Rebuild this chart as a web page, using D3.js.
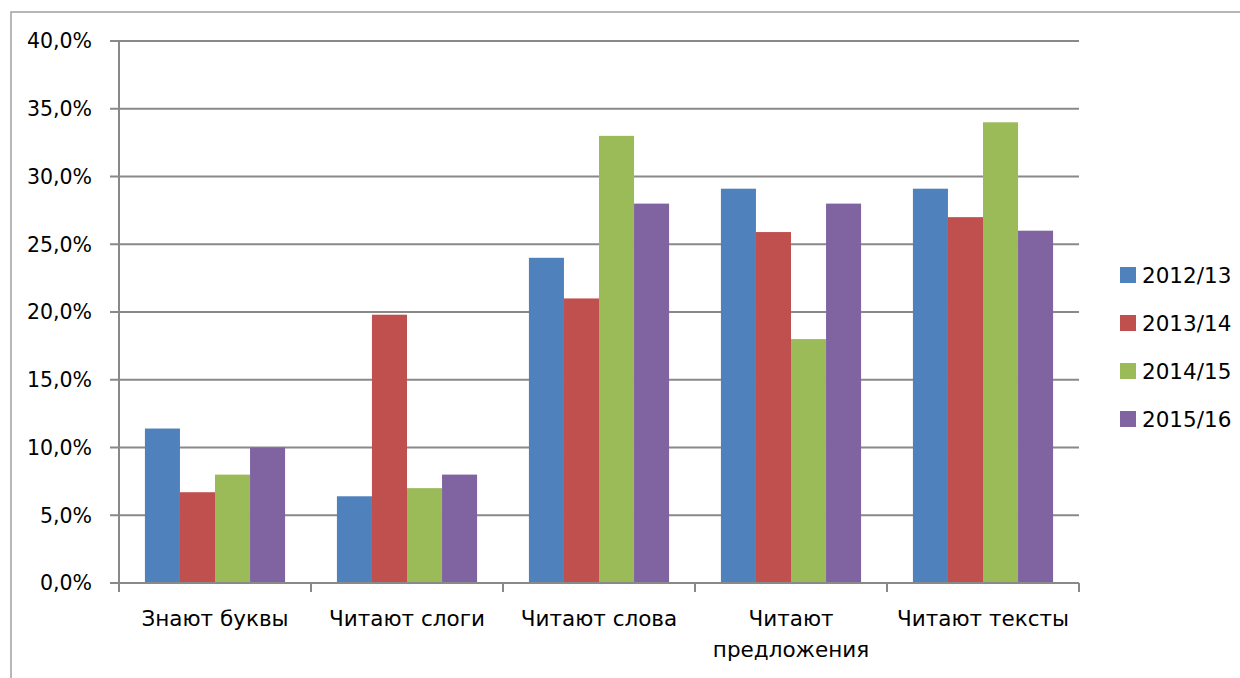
<!DOCTYPE html>
<html><head><meta charset="utf-8">
<script src="https://cdn.jsdelivr.net/npm/d3@7"></script>
<style>
html,body{margin:0;padding:0;background:#fff;}
svg{display:block;font-family:"DejaVu Sans",sans-serif;}
</style></head><body>
<svg id="c" width="1240" height="678"></svg>
<script>
const categories = ["Знают буквы","Читают слоги","Читают слова","Читают предложения","Читают тексты"];
const categoryLines = [["Знают буквы"],["Читают слоги"],["Читают слова"],["Читают","предложения"],["Читают тексты"]];
const seriesNames = ["2012/13","2013/14","2014/15","2015/16"];
const colors = ["#4F81BD","#C0504D","#9BBB59","#8064A2"];
const v2012 = [11.4, 6.4, 24.0, 29.1, 29.1];
const v2013 = [6.7, 19.8, 21.0, 25.9, 27.0];
const v2014 = [8.0, 7.0, 33.0, 18.0, 34.0];
const v2015 = [10.0, 8.0, 28.0, 28.0, 26.0];
const seriesValues = [v2012, v2013, v2014, v2015];
const yTicks = [0,5,10,15,20,25,30,35,40];
const yTickLabels = ["0,0%","5,0%","10,0%","15,0%","20,0%","25,0%","30,0%","35,0%","40,0%"];

const svg = d3.select("#c");
// outer frame
svg.append("rect").attr("x",11).attr("y",12).attr("width",1260).attr("height",700)
  .attr("fill","none").attr("stroke","#A0A0A0").attr("stroke-width",1.5);

const x0 = d3.scaleBand().domain(categories).range([119,1079]).paddingInner(0.27).paddingOuter(0.135);
const x1 = d3.scaleBand().domain(seriesNames).range([0,x0.bandwidth()]);
const y = d3.scaleLinear().domain([0,40]).range([583,41]);

// gridlines
svg.append("g").selectAll("line").data(yTicks).join("line")
  .attr("x1",110).attr("x2",1079).attr("y1",d=>y(d)).attr("y2",d=>y(d))
  .attr("stroke","#898989").attr("stroke-width",2);

// y axis line
svg.append("line").attr("x1",119).attr("x2",119).attr("y1",y(40)).attr("y2",y(0))
  .attr("stroke","#898989").attr("stroke-width",2);

// y labels
svg.append("g").selectAll("text").data(yTicks).join("text")
  .attr("x",92).attr("y",d=>y(d)).attr("dy","0.36em").attr("text-anchor","end")
  .attr("font-size",20.5).attr("fill","#000").text((d,i)=>yTickLabels[i]);

// bars
const groups = svg.append("g").selectAll("g").data(categories).join("g")
  .attr("transform",d=>`translate(${x0(d)},0)`);
groups.selectAll("rect").data((c,ci)=>seriesNames.map((s,si)=>({s,si,v:seriesValues[si][ci]}))).join("rect")
  .attr("x",d=>x1(d.s)).attr("width",x1.bandwidth())
  .attr("y",d=>y(d.v)).attr("height",d=>y(0)-y(d.v))
  .attr("fill",d=>colors[d.si]);

// x axis line and ticks
svg.append("line").attr("x1",119).attr("x2",1079).attr("y1",y(0)).attr("y2",y(0))
  .attr("stroke","#898989").attr("stroke-width",2);
const step = x0.step();
const tickXs = d3.range(categories.length+1).map(i=>x0(categories[0]) - x0.paddingOuter()*step + i*step);
svg.append("g").selectAll("line").data(tickXs).join("line")
  .attr("x1",d=>d).attr("x2",d=>d).attr("y1",y(0)).attr("y2",y(0)+9)
  .attr("stroke","#898989").attr("stroke-width",2);

// category labels
const cl = svg.append("g").selectAll("text").data(categories).join("text")
  .attr("x",d=>x0(d)+x0.bandwidth()/2).attr("y",626).attr("text-anchor","middle")
  .attr("font-size",21.5).attr("fill","#000");
cl.selectAll("tspan").data((d,i)=>categoryLines[i]).join("tspan")
  .attr("x",function(){return this.parentNode.getAttribute("x");})
  .attr("dy",(d,i)=>i===0?0:31).text(d=>d);

// legend
const leg = svg.append("g").selectAll("g").data(seriesNames).join("g")
  .attr("transform",(d,i)=>`translate(1120,${275+i*48})`);
leg.append("rect").attr("x",0).attr("y",-8).attr("width",16).attr("height",16).attr("fill",(d,i)=>colors[i]);
leg.append("text").attr("x",22).attr("y",0).attr("dy","0.36em").attr("font-size",21.5).attr("fill","#000").text(d=>d);
</script>
</body></html>
